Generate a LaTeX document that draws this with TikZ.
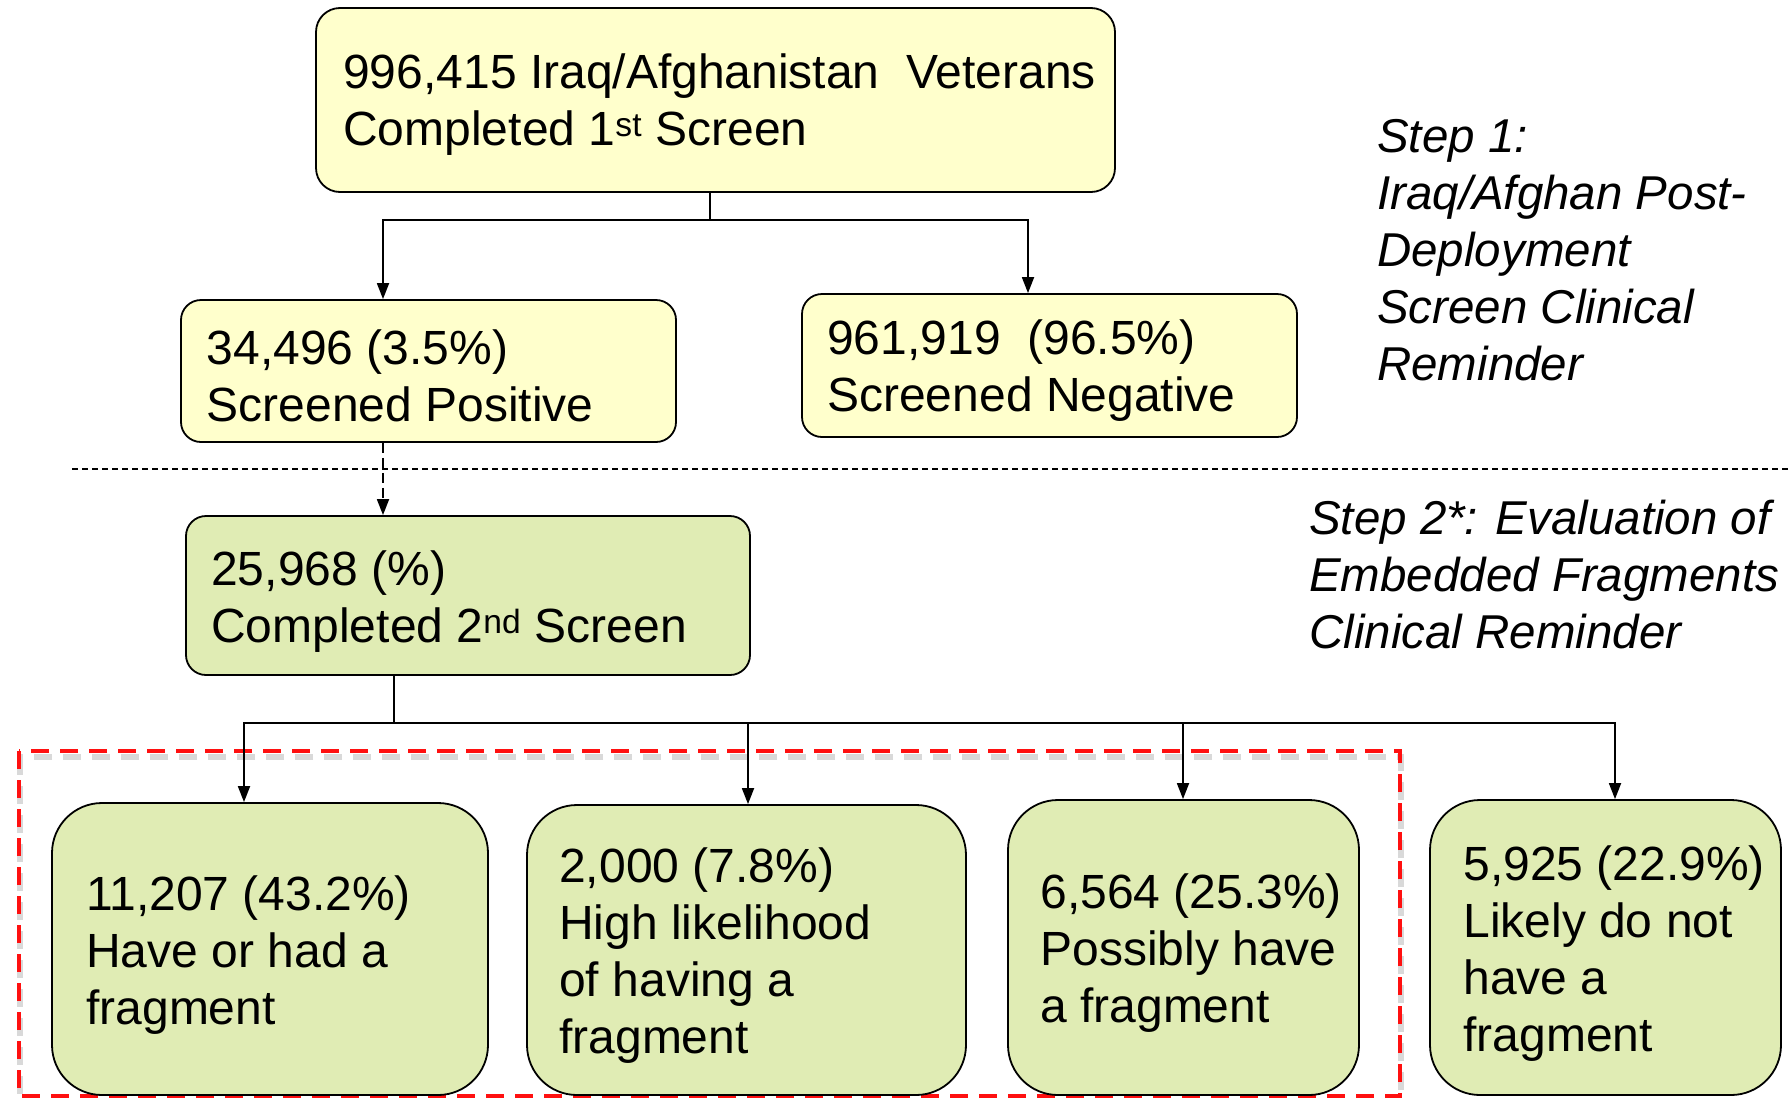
\documentclass[tikz,border=0pt]{standalone}
\usepackage{fontspec}
\setmainfont{Liberation Sans}
\usetikzlibrary{arrows.meta}
\definecolor{yel}{HTML}{FFFFCC}
\definecolor{grn}{HTML}{E0ECB4}
\definecolor{redd}{HTML}{FF1010}
\begin{document}
\begin{tikzpicture}[x=1pt,y=-1pt,
  box/.style={draw=black, line width=1.8pt, rounded corners=#1, inner sep=0pt},
  box/.default=20pt,
  ybox/.style={box=24pt, fill=yel},
  gsmall/.style={box=20pt, fill=grn},
  gbig/.style={box=50pt, fill=grn},
  txt/.style={align=left, inner sep=0pt, anchor=west, font=\fontsize{48}{57}\selectfont},
  itx/.style={align=left, inner sep=0pt, anchor=west, font=\fontsize{47.5}{57}\selectfont\itshape},
  arr/.style={line width=1.8pt, -{Triangle[length=16pt,width=12pt]}},
  con/.style={line width=1.8pt}
]
\useasboundingbox (0,0) rectangle (1788,1098);

% red dashed frame with shadow
\draw[line width=6pt, gray, opacity=0.3, dash pattern=on 18pt off 11pt] (20,757) rectangle (1401,1103);
\draw[line width=4pt, redd, dash pattern=on 18pt off 11pt] (19,751) rectangle (1400,1096);

% dotted separator
\coordinate (sepL) at (72,469);
\coordinate (sepR) at (1788,469);
\draw[line width=1.5pt, dash pattern=on 6pt off 4pt] (sepL) -- (sepR);

% boxes
\node[ybox, minimum width=799pt, minimum height=184pt] (top) at (715.5,100) {};
\node[ybox, box=20pt, fill=yel, minimum width=495pt, minimum height=142pt] (sp) at (428.5,371) {};
\node[ybox, box=20pt, fill=yel, minimum width=495pt, minimum height=143pt] (sn) at (1049.5,365.5) {};
\node[gsmall, minimum width=564pt, minimum height=159pt] (c2) at (468,595.5) {};
\node[gbig, minimum width=436pt, minimum height=292pt] (b1) at (270,949) {};
\node[gbig, minimum width=439pt, minimum height=290pt] (b2) at (746.5,950) {};
\node[gbig, minimum width=351pt, minimum height=295pt] (b3) at (1183.5,947.5) {};
\node[gbig, minimum width=351pt, minimum height=295pt] (b4) at (1605.5,947.5) {};

% texts
\node[txt] (topt) at ([xshift=28pt,yshift=-5pt]top.west) {996,415 Iraq/Afghanistan\ \ Veterans\\Completed 1\textsuperscript{st} Screen};
\node[txt] (spt) at ([xshift=26.5pt,yshift=-5pt]sp.west) {34,496 (3.5\%)\\Screened Positive};
\node[txt] (snt) at ([xshift=26pt,yshift=-5pt]sn.west) {961,919\ \ (96.5\%)\\Screened Negative};
\node[txt] (c2t) at ([xshift=26pt,yshift=-6pt]c2.west) {25,968 (\%)\\Completed 2\textsuperscript{nd} Screen};
\node[txt] (b1t) at ([xshift=35pt,yshift=-6pt]b1.west) {11,207 (43.2\%)\\Have or had a\\fragment};
\node[txt] (b2t) at ([xshift=33pt,yshift=-6pt]b2.west) {2,000 (7.8\%)\\High likelihood\\of having a\\fragment};
\node[txt] (b3t) at ([xshift=33pt,yshift=-6pt]b3.west) {6,564 (25.3\%)\\Possibly have\\a fragment};
\node[txt] (b4t) at ([xshift=34pt,yshift=-6pt]b4.west) {5,925 (22.9\%)\\Likely do not\\have a\\fragment};

\node[itx] (s1) at (1377,250) {Step 1:\\Iraq/Afghan Post-\\Deployment\\Screen Clinical\\Reminder};
\node[itx] (s2) at (1309,575) {Step 2*: Evaluation of\\Embedded Fragments\\Clinical Reminder};

% connectors step 1
\draw[con] ([xshift=-5.5pt]top.south) -- ++(0,27) coordinate (j1);
\draw[arr] (j1) -| ([xshift=-45.5pt]sp.north);
\draw[arr] (j1) -| ([xshift=-21.5pt]sn.north);

% dashed arrow
\draw[arr, dash pattern=on 10pt off 5pt] ([xshift=-45.5pt]sp.south) -- ([xshift=-85pt]c2.north);

% connectors step 2
\draw[con] ([xshift=-74pt]c2.south) -- ++(0,47) coordinate (j2);
\draw[arr] (j2) -| ([xshift=-26pt]b1.north);
\draw[arr] (j2) -| ([xshift=1.5pt]b2.north);
\draw[arr] (j2) -| ([xshift=-0.5pt]b3.north);
\draw[arr] (j2) -| ([xshift=9.5pt]b4.north);
\end{tikzpicture}
\end{document}
